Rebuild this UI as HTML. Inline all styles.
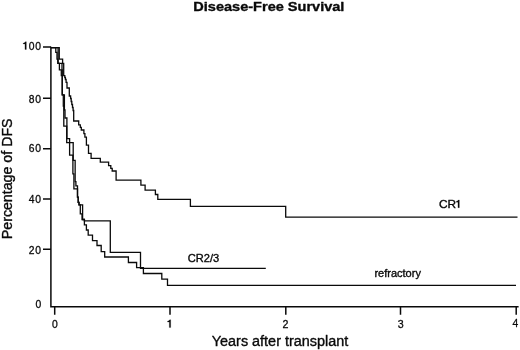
<!DOCTYPE html>
<html>
<head>
<meta charset="utf-8">
<title>Disease-Free Survival</title>
<style>
  html, body { margin: 0; padding: 0; background: #ffffff; }
  body { width: 520px; height: 350px; overflow: hidden; font-family: "Liberation Sans", sans-serif; }
  svg { display: block; will-change: transform; }
  text { font-family: "Liberation Sans", sans-serif; fill: #0a0a0a; stroke: #0a0a0a; stroke-width: 0.35px; stroke-linejoin: round; }
  .ax { stroke: #0a0a0a; stroke-width: 1.5; fill: none; stroke-linecap: butt; }
  .cv { stroke: #0a0a0a; stroke-width: 1.3; fill: none; stroke-linejoin: miter; }
  .tl { font-size: 11px; }
  .dg text { stroke-width: 0.3px; }
  .gl { fill: #0a0a0a; stroke: #0a0a0a; stroke-width: 0.2px; }
  .lb { font-size: 14px; }
</style>
</head>
<body>
<svg width="520" height="350" viewBox="0 0 520 350">
  <rect x="0" y="0" width="520" height="350" fill="#ffffff"/>
  <!-- title -->
  <text id="title" transform="translate(268.85 10.85) scale(1.078 1)" text-anchor="middle" font-size="13.5px" font-weight="bold">Disease-Free Survival</text>
  <!-- axes -->
  <path class="ax" d="M50.9 46.8 V306.75 H518.6"/>
  <!-- y ticks -->
  <path class="ax" d="M43 47.1 H51 M43 98.2 H51 M43 148.7 H51 M43 199 H51 M43 249.3 H51"/>
  <!-- x ticks -->
  <path class="ax" d="M54.7 306.7 V314.7 M170 306.7 V314.7 M285.8 306.7 V314.7 M400.5 306.7 V314.7 M516.2 306.7 V314.7"/>
  <!-- y tick labels -->
  <g class="tl dg">
    <text transform="translate(28.75 49.5) scale(0.94 1)">0</text>
    <text transform="translate(35.35 49.5) scale(0.94 1)">0</text>
    <text transform="translate(28.75 102.8) scale(0.94 1)">8</text>
    <text transform="translate(35.35 102.8) scale(0.94 1)">0</text>
    <text transform="translate(28.75 152.0) scale(0.94 1)">6</text>
    <text transform="translate(35.35 152.0) scale(0.94 1)">0</text>
    <text transform="translate(28.75 202.7) scale(0.94 1)">4</text>
    <text transform="translate(35.35 202.7) scale(0.94 1)">0</text>
    <text transform="translate(28.75 253.7) scale(0.94 1)">2</text>
    <text transform="translate(35.35 253.7) scale(0.94 1)">0</text>
    <text transform="translate(35.55 307.8) scale(0.94 1)">0</text>
    <path class="gl" transform="translate(24.95 49.45)" d="M1.4 0 H0 V-5.5 H-1.8 V-6.3 C-0.9 -6.45 -0.1 -7 0.4 -7.75 H1.4 Z"/>
  </g>
  <!-- x tick labels -->
  <g class="tl dg" text-anchor="middle">
    <text transform="translate(55 327.8) scale(0.94 1)">0</text>
    <path class="gl" transform="translate(169.3 327.55)" d="M1.4 0 H0 V-5.5 H-1.8 V-6.3 C-0.9 -6.45 -0.1 -7 0.4 -7.75 H1.4 Z"/>
    <text transform="translate(285.4 327.7) scale(0.97 1)">2</text>
    <text transform="translate(400.8 327.5) scale(0.97 1)">3</text>
    <text transform="translate(515.5 327.3) scale(0.94 1)">4</text>
  </g>
  <!-- axis titles -->
  <text class="lb" transform="translate(280.0 346.2) scale(1.03 1)" text-anchor="middle">Years after transplant</text>
  <text class="lb" transform="translate(12 178.85) rotate(-90) scale(1.015 1)" text-anchor="middle">Percentage of DFS</text>
  <!-- curve labels -->
  <text class="tl" style="font-size:10.5px" transform="translate(439 207.7) scale(1.13 1)">CR</text>
  <path class="gl" transform="translate(457.95 207.7)" d="M1.4 0 H0 V-5.5 H-1.8 V-6.3 C-0.9 -6.45 -0.1 -7 0.4 -7.75 H1.4 Z"/>
  <text class="tl" style="font-size:10.5px" transform="translate(187.7 261.8) scale(1.06 1)">CR2/3</text>
  <text class="tl" style="font-size:10.5px" transform="translate(374.4 276.5) scale(1.05 1)">refractory</text>

  <!-- CR1 -->
  <path id="cr1" class="cv" d="M50.9 47.6 H59.25 V59.1 H62.6 V63.3 H63.7 V75.6 H64.8 V77.5 H65.4 V79.5 H66.1 V82.3 H67 V88 H69.3 V96 H70.6 V98.5 H71.2 V101.5 H71.8 V104.5 H72.5 V107.5 H73.1 V110.5 H73.7 V121 H78.7 V124.8 H80.3 V127.4 H81.3 V130 H83.9 V133.6 H84.9 V137.2 H86.4 V145.2 H88.5 V153.4 H91.1 V158.3 H100.3 V162.2 H108.6 V165.7 H110.8 V168.3 H112.2 V171 H116.1 V180.2 H140.9 V185.1 H145.1 V190.1 H155.4 V194.5 H157.8 V199.3 H190.4 V206.45 H285.7 V217.2 H517.5"/>
  <!-- CR2/3 -->
  <path id="cr23" class="cv" d="M50.9 47.6 H58.1 V63.3 H62 V69.9 H62.3 V94.8 H64.4 V110 H65 V118 H66.9 V138.6 H69.6 V155.1 H72.9 V173.8 H73.9 V188.8 H77.5 V197.1 H78.2 V202.3 H79 V204.8 H82.6 V219.5 H84.4 V220.9 H110.3 V252.3 H140.5 V268.45 H265.8"/>
  <!-- refractory -->
  <path id="ref" class="cv" d="M50.9 47.6 H55.8 V52.4 H57 V59.1 H57.8 V63.3 H59.4 V69.9 H61.3 V75.6 H62.2 V94.8 H63.3 V106 H63.8 V126.2 H66.7 V142.7 H73.2 V160.3 H75.15 V181.6 H75.9 V185.8 H77.5 V197.1 H78.2 V202.3 H79 V204.8 H80.3 V213.8 H82.05 V219.5 H84.4 V224.8 H86.4 V230 H88.2 V235.2 H92.5 V240.6 H97 V245.5 H101.2 V251.6 H104.7 V257 H128.4 V262.5 H136.6 V267.6 H143.4 V273.5 H161.8 V279.1 H167.5 V285.4 H516"/>
</svg>
</body>
</html>
